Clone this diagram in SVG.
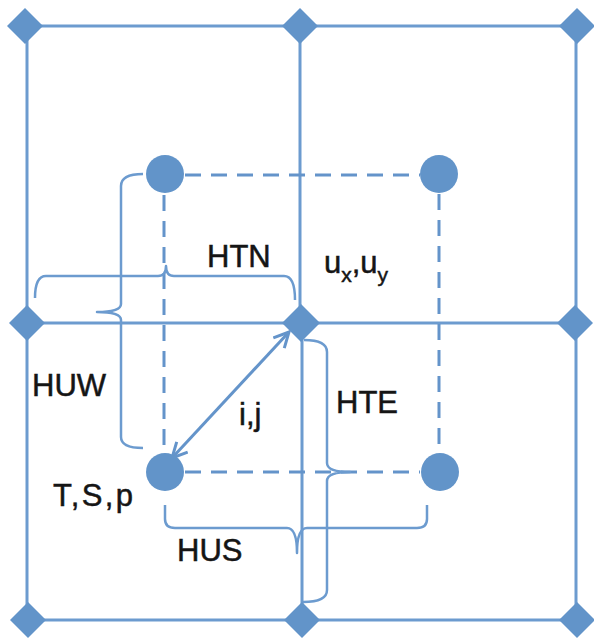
<svg xmlns="http://www.w3.org/2000/svg" width="594" height="641" viewBox="0 0 594 641">
<style>
.grid{stroke:#6C9BCF;stroke-width:3;fill:none}
.dash{stroke:#6494CA;stroke-width:3;fill:none;stroke-dasharray:16 10}
.brace{stroke:#6C9BCF;stroke-width:2.5;fill:none;stroke-linejoin:round}
.dia{fill:#6294C9}
.circ{fill:#6294C9}
.lbl{font-family:"Liberation Sans",Arial,sans-serif;font-size:31px;fill:#151515;stroke:#151515;stroke-width:0.5}
.sub{font-size:21px}
</style>
<defs>
<marker id="arr" viewBox="0 0 12 12" refX="11" refY="6" markerWidth="6" markerHeight="6" orient="auto-start-reverse" markerUnits="strokeWidth">
<path d="M1,1 L11,6 L1,11" fill="none" stroke="#6494CA" stroke-width="2"/>
</marker>
</defs>
<rect width="594" height="641" fill="#fff"/>
<g id="connectors">
<path class="grid" d="M25,26 H577 M27,323 H575 M28,620 H577 M27,26 V620 M300,26 V323 M302,323 V620 M576,26 V620"/>
<path class="dash" d="M185,175 H420 M164,195 V452 M439,194 V452 M185,472 H420"/>
<path id="brace-htn" class="brace" d="M35,298 Q35,276 46,276 L158,276 Q166,276 166,266 Q166,276 174,276 L284,276 Q295,276 295,300"/>
<path id="brace-huw" class="brace" d="M143,174 Q121,174 121,186 L121,304 Q121,312 97,312 Q121,312 121,320 L121,437 Q121,448 143,448"/>
<path id="brace-hte" class="brace" d="M304,340 Q327,340 327,352 L327,463 Q327,472 350,472 Q327,472 327,481 L327,590 Q327,602 303,602"/>
<path id="brace-hus" class="brace" d="M165,505 L165,519 Q165,528 175,528 L287,528 Q297,528 297,553 Q297,528 307,528 L417,528 Q427,528 427,519 L427,505"/>
<line x1="172" y1="458" x2="289" y2="332" stroke="#6494CA" stroke-width="3" marker-start="url(#arr)" marker-end="url(#arr)"/>
</g>
<g id="nodes-grid">
<g id="n-tl"><path class="dia" d="M25,8 L43,26 L25,44 L7,26 Z"/></g>
<g id="n-tm"><path class="dia" d="M300,8 L318,26 L300,44 L282,26 Z"/></g>
<g id="n-tr"><path class="dia" d="M577,8 L595,26 L577,44 L559,26 Z"/></g>
<g id="n-ml"><path class="dia" d="M27,305 L45,323 L27,341 L9,323 Z"/></g>
<g id="n-mm"><path class="dia" d="M301,304 L320,323 L301,342 L282,323 Z"/></g>
<g id="n-mr"><path class="dia" d="M575,305 L593,323 L575,341 L557,323 Z"/></g>
<g id="n-bl"><path class="dia" d="M28,602 L46,620 L28,638 L10,620 Z"/></g>
<g id="n-bm"><path class="dia" d="M302,602 L320,620 L302,638 L284,620 Z"/></g>
<g id="n-br"><path class="dia" d="M577,602 L595,620 L577,638 L559,620 Z"/></g>
</g>
<g id="nodes-center">
<g id="c-tl"><circle class="circ" cx="165" cy="174" r="19"/></g>
<g id="c-tr"><circle class="circ" cx="439" cy="174" r="19"/></g>
<g id="c-bl"><circle class="circ" cx="165" cy="472" r="19"/></g>
<g id="c-br"><circle class="circ" cx="440" cy="472" r="19"/></g>
</g>
<g id="labels">
<text class="lbl" x="207" y="267">HTN</text>
<text class="lbl" x="324" y="273">u<tspan class="sub" dy="9">x</tspan><tspan dy="-9">,u</tspan><tspan class="sub" dy="9">y</tspan></text>
<text class="lbl" x="32" y="396">HUW</text>
<text class="lbl" x="336" y="413">HTE</text>
<text class="lbl" x="239" y="425">i,j</text>
<text class="lbl" x="53" y="506" textLength="80" lengthAdjust="spacing">T,S,p</text>
<text class="lbl" x="177" y="561">HUS</text>
</g>
</svg>
